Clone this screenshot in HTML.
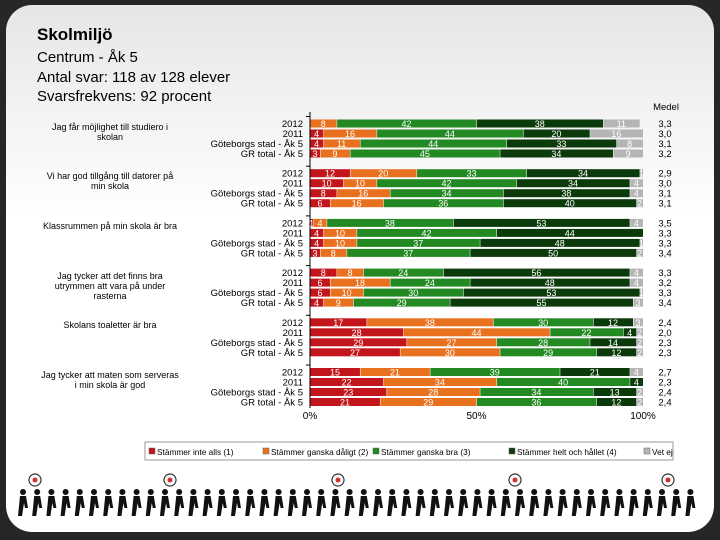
<!DOCTYPE html>
<html><head><meta charset="utf-8"><style>
body{margin:0;width:720px;height:540px;overflow:hidden;background:#262626;font-family:"Liberation Sans",sans-serif}
#card{position:absolute;left:6px;top:5px;width:708px;height:527px;background:linear-gradient(#e6e6e6,#fff 40%);border-radius:26px}
.t{position:absolute;left:37px;color:#000}
</style></head><body>
<div id="card"></div>
<div class="t" style="top:25px;font-size:17px;font-weight:bold">Skolmiljö</div>
<div class="t" style="top:48px;font-size:15px;line-height:19.5px">Centrum - Åk 5<br>Antal svar: 118 av 128 elever<br>Svarsfrekvens: 92 procent</div>
<svg id="ch" width="720" height="540" style="position:absolute;left:0;top:0"></svg>
<script>
const questions=["Jag får möjlighet till studiero i skolan","Vi har god tillgång till datorer på min skola","Klassrummen på min skola är bra","Jag tycker att det finns bra utrymmen att vara på under rasterna","Skolans toaletter är bra","Jag tycker att maten som serveras i min skola är god"];
const rowLabels=["2012","2011","Göteborgs stad - Åk 5","GR total - Åk 5"];
const seriesNames=["Stämmer inte alls (1)","Stämmer ganska dåligt (2)","Stämmer ganska bra (3)","Stämmer helt och hållet (4)","Vet ej"];
const values=[
[[0,8,42,38,11],[4,16,44,20,16],[4,11,44,33,8],[3,9,45,34,9]],
[[12,20,33,34,1],[10,10,42,34,4],[8,16,34,38,4],[6,16,36,40,2]],
[[1,4,38,53,4],[4,10,42,44,0],[4,10,37,48,1],[3,8,37,50,2]],
[[8,8,24,56,4],[6,18,24,48,4],[6,10,30,53,1],[4,9,29,55,3]],
[[17,38,30,12,3],[28,44,22,4,2],[29,27,28,14,2],[27,30,29,12,2]],
[[15,21,39,21,4],[22,34,40,4,0],[23,28,34,13,2],[21,29,36,12,2]]];
const means=[["3,3","3,0","3,1","3,2"],["2,9","3,0","3,1","3,1"],["3,5","3,3","3,3","3,4"],["3,3","3,2","3,3","3,4"],["2,4","2,0","2,3","2,3"],["2,7","2,3","2,4","2,4"]];
const ticks=[0,50,100];
const colors=["#c3161c","#e8711f","#238a23","#0b3a0b","#b5b5b5"];
const svg=document.getElementById('ch');const NS="http://www.w3.org/2000/svg";
function el(t,a,p){const e=document.createElementNS(NS,t);for(const k in a)e.setAttribute(k,a[k]);(p||svg).appendChild(e);return e;}
const x=v=>310+v*3.33;
const rowY=(g,r)=>119.5+g*49.7+r*10;
el('line',{x1:310,y1:112,x2:310,y2:408,stroke:'#000','stroke-width':1});
ticks.forEach(t=>{const tx=el('text',{x:x(t),y:419,'font-size':10,'text-anchor':'middle'});tx.textContent=t+'%';});
for(let g=0;g<6;g++){
 el('line',{x1:306,y1:rowY(g,0)-3,x2:310,y2:rowY(g,0)-3,stroke:'#000'});
 const fo=el('foreignObject',{x:40,y:rowY(g,0)+2,width:140,height:40});
 fo.innerHTML='<div xmlns="http://www.w3.org/1999/xhtml" style="font:9px Liberation Sans,sans-serif;text-align:center;line-height:10px">'+questions[g]+'</div>';
 
 
 for(let r=0;r<4;r++){
  const y=rowY(g,r);
  const l=el('text',{x:303,y:y+7.5,'font-size':9.5,'text-anchor':'end'});l.textContent=rowLabels[r];
  
  
  let c=0;
  values[g][r].forEach((v,i)=>{
   if(v<=0){return;}
   const b=el('rect',{x:x(c)+0.5,y:y,width:Math.max(x(c+v)-x(c)-0.5,0.5),height:8,fill:colors[i]});
   
   
   const tt=el('text',{x:(x(c)+x(c+v))/2,y:y+7.5,'font-size':9,'text-anchor':'middle',fill:'#fff'});tt.textContent=v;
   c+=v;
  });
  const m=el('text',{x:665,y:y+7.5,'font-size':9.5,'text-anchor':'middle'});m.textContent=means[g][r];
  
  
 }
}
const mh=el('text',{x:666,y:110,'font-size':9.5,'text-anchor':'middle'});mh.textContent='Medel';
el('rect',{x:145,y:442,width:528,height:18,fill:'#fff',stroke:'#999'});
const lx=[149,263,373,509,644];
seriesNames.forEach((n,i)=>{el('rect',{x:lx[i],y:448,width:6,height:6,fill:colors[i],stroke:'#666','stroke-width':0.5});
 const t=el('text',{x:lx[i]+8,y:455,'font-size':8.3});t.textContent=n;
 
 });
for(let i=0;i<48;i++){const px=18+i*14.2;
 el('circle',{cx:px+5,cy:492,r:3,fill:'#111'},svg);
 el('path',{d:`M${px+2} 496 L${px+8} 496 L${px+10} 508 L${px+7} 508 L${px+6} 503 L${px+4} 516 L${px} 516 L${px+1} 506 Z`,fill:'#111'});}
[35,170,338,515,668].forEach(p=>{el('circle',{cx:p,cy:480,r:6,fill:'#fff',stroke:'#333','stroke-width':1.2});el('circle',{cx:p,cy:480,r:2.5,fill:'#c33'});});
</script>
</body></html>
